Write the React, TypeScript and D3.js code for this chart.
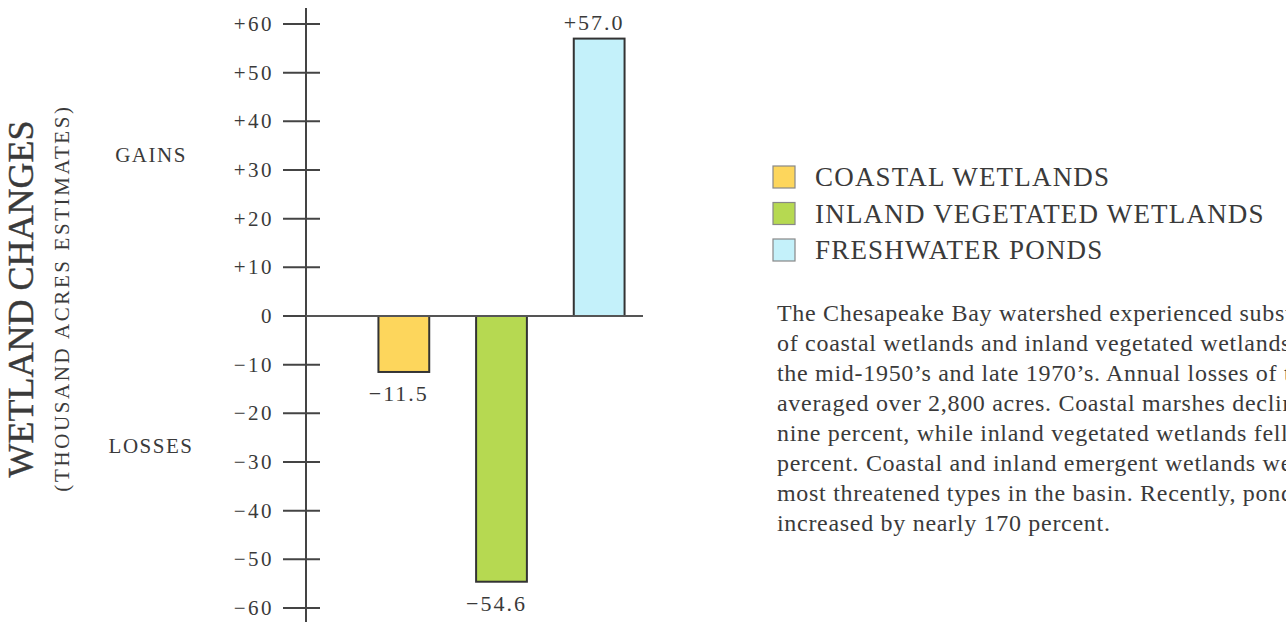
import React from "react";
import * as d3 from "d3";

const categories = ["COASTAL WETLANDS", "INLAND VEGETATED WETLANDS", "FRESHWATER PONDS"];
const values = [-11.5, -54.6, 57.0];
const valueLabels = ["\u221211.5", "\u221254.6", "+57.0"];
const colors = ["#FDD65C", "#B6D951", "#C4F1FA"];
const tickValues = [60, 50, 40, 30, 20, 10, 0, -10, -20, -30, -40, -50, -60];
const tickLabels = ["+60", "+50", "+40", "+30", "+20", "+10", "0", "\u221210", "\u221220", "\u221230", "\u221240", "\u221250", "\u221260"];
const paragraph = [
  "The Chesapeake Bay watershed experienced substantial losses",
  "of coastal wetlands and inland vegetated wetlands between",
  "the mid-1950\u2019s and late 1970\u2019s. Annual losses of these wetlands",
  "averaged over 2,800 acres. Coastal marshes declined by",
  "nine percent, while inland vegetated wetlands fell by six",
  "percent. Coastal and inland emergent wetlands were the",
  "most threatened types in the basin. Recently, ponds have",
  "increased by nearly 170 percent.",
];

const W = 1286;
const H = 625;
const FONT = "'Liberation Serif', 'Times New Roman', serif";
const INK = "#3a3a3a";

export default function App() {
  const y = d3.scaleLinear().domain([-60, 60]).range([608, 24]);
  const x = d3.scaleBand<string>().domain(categories).range([355, 648]).paddingInner(0.48).paddingOuter(0.24);
  const axisX = 306;

  return (
    <svg width={W} height={H} style={{ position: "absolute", left: 0, top: 0, background: "#fff" }} fontFamily={FONT}>
      {/* Y titles */}
      <text transform={`translate(33,299) rotate(-90)`} textAnchor="middle" fontSize={36} fill={INK} stroke={INK} strokeWidth={0.4}>
        WETLAND CHANGES
      </text>
      <text transform={`translate(69,298) rotate(-90)`} textAnchor="middle" fontSize={21} fill={INK} letterSpacing={2.6}>
        (THOUSAND ACRES ESTIMATES)
      </text>
      <text x={151} y={162} textAnchor="middle" fontSize={21} fill={INK} letterSpacing={1.5}>GAINS</text>
      <text x={151} y={453} textAnchor="middle" fontSize={21} fill={INK} letterSpacing={1.5}>LOSSES</text>

      {/* axis */}
      <line x1={axisX} x2={axisX} y1={8} y2={622} stroke="#444" strokeWidth={2} />
      {tickValues.map((t, i) => (
        <g key={t}>
          <line x1={283} x2={320} y1={y(t)} y2={y(t)} stroke="#444" strokeWidth={2} />
          <text x={274} y={y(t)} dy="0.34em" textAnchor="end" fontSize={21} fill={INK} letterSpacing={2.5}>
            {tickLabels[i]}
          </text>
        </g>
      ))}

      {/* bars */}
      {categories.map((c, i) => {
        const v = values[i];
        const y0 = y(Math.max(0, v));
        const y1 = y(Math.min(0, v));
        return (
          <rect key={c} x={x(c)} y={y0} width={x.bandwidth()} height={y1 - y0} fill={colors[i]} stroke="#333" strokeWidth={2} />
        );
      })}
      <line x1={axisX} x2={643} y1={y(0)} y2={y(0)} stroke="#555" strokeWidth={2} />
      {categories.map((c, i) => {
        const v = values[i];
        const cx = (x(c) as number) + x.bandwidth() / 2 - 5;
        const ty = v >= 0 ? y(v) - 16 : y(v) + 22;
        return (
          <text key={c} x={cx} y={ty} dy="0.34em" textAnchor="middle" fontSize={22} fill={INK} letterSpacing={2}>
            {valueLabels[i]}
          </text>
        );
      })}

      {/* legend */}
      {categories.map((c, i) => (
        <g key={c} transform={`translate(773,${177 + i * 36.5})`}>
          <rect x={0} y={-11} width={22} height={22} fill={colors[i]} stroke="#888" strokeWidth={1.2} />
          <text x={42} y={0} dy="0.35em" fontSize={27} fill={INK} letterSpacing={1.2}>{c}</text>
        </g>
      ))}

      {/* paragraph */}
      {paragraph.map((line, i) => (
        <text key={i} x={777} y={313 + i * 29.9} dy="0.35em" fontSize={24} fill={INK} letterSpacing={0.7}>
          {line}
        </text>
      ))}
    </svg>
  );
}
